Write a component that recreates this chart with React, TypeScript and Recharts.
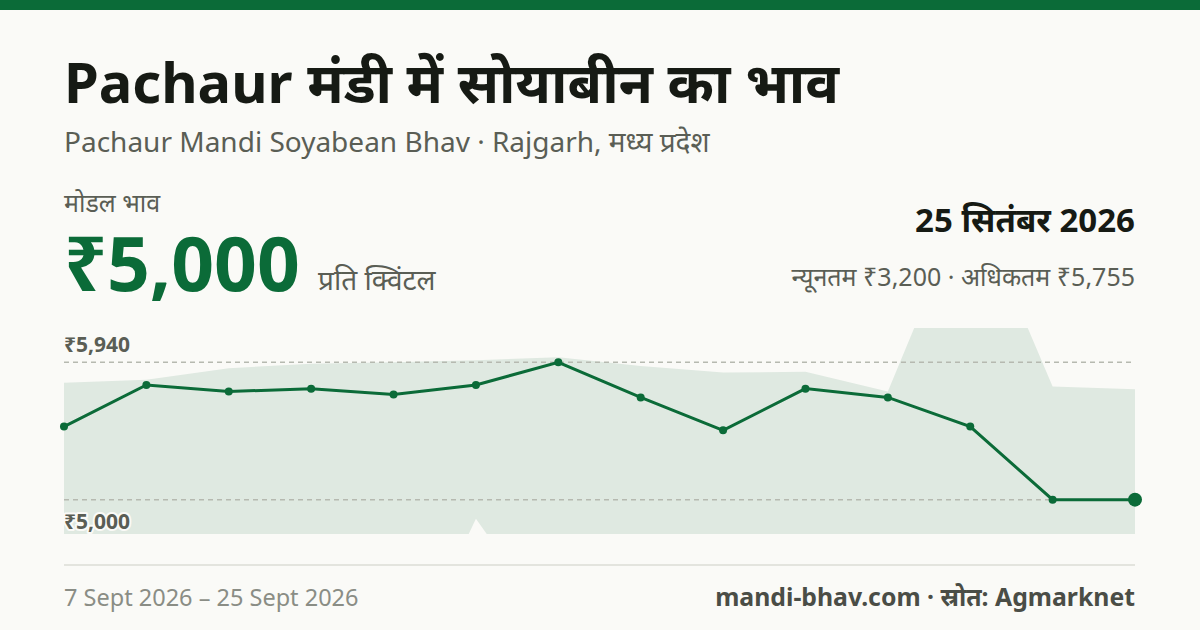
import { ComposedChart, Area, Line, XAxis, YAxis, ReferenceLine } from 'recharts'

const dates = ['7 Sept', '8 Sept', '9 Sept', '10 Sept', '11 Sept', '12 Sept', '14 Sept', '15 Sept', '16 Sept', '17 Sept', '19 Sept', '22 Sept', '24 Sept', '25 Sept']
const modalPrice = [5500, 5785, 5740, 5760, 5720, 5785, 5940, 5700, 5475, 5760, 5700, 5500, 5000, 5000]
const minPrice = [4000, 3800, 4200, 3500, 3670, 4870, 4070, 3600, 4000, 3800, 4100, 3500, 3900, 3200]
const maxPrice = [5800, 5820, 5900, 5930, 5940, 5955, 5975, 5915, 5870, 5875, 5740, 7100, 5775, 5755]

const GREEN = '#0b6b38'
const BG = '#fafaf7'
const FONT = "'Noto Sans', 'Noto Sans Devanagari', sans-serif"

const chartData = dates.map((d, i) => ({
  date: d,
  modal: modalPrice[i],
  range: [minPrice[i], maxPrice[i]]
}))

const hi = Math.max(...modalPrice)
const lo = Math.min(...modalPrice)
const pad = (hi - lo) * 0.25
const fmt = (v: number) => '₹' + v.toLocaleString('en-IN')

function refLabel(text: string, above: boolean) {
  return (props: any) => {
    const vb = props.viewBox || {}
    return (
      <text
        x={vb.x}
        y={above ? vb.y - 10 : vb.y + 29}
        fill="#5a5e55"
        fontSize={21}
        fontWeight={700}
        fontFamily={FONT}
        stroke={BG}
        strokeWidth={4}
        strokeLinejoin="round"
        paintOrder="stroke"
      >
        {text}
      </text>
    )
  }
}

export default function App() {
  const last = chartData.length - 1
  return (
    <div style={{ position: 'absolute', left: 0, top: 0, width: 1200, height: 630, background: BG, overflow: 'hidden', fontFamily: FONT }}>
      <div style={{ position: 'absolute', left: 0, top: 0, width: 1200, height: 10, background: GREEN }} />
      <svg width={1200} height={630} style={{ position: 'absolute', left: 0, top: 0 }} fontFamily={FONT}>
        <text x={64} y={103} fontSize={56} fontWeight={700} fill="#161a14">Pachaur मंडी में सोयाबीन का भाव</text>
        <text x={64} y={152} fontSize={28} fill="#5a5e55">Pachaur Mandi Soyabean Bhav · Rajgarh, मध्य प्रदेश</text>
        <text x={64} y={212} fontSize={25} fill="#5a5e55">मोडल भाव</text>
        <text x={64} y={291} fontSize={75} fontWeight={700} fill={GREEN}>₹5,000</text>
        <text x={318} y={290} fontSize={28} fill="#5a5e55">प्रति क्विंटल</text>
        <text x={1135} y={232} fontSize={33} fontWeight={700} fill="#161a14" textAnchor="end">25 सितंबर 2026</text>
        <text x={1135} y={286} fontSize={25} fill="#5a5e55" textAnchor="end">न्यूनतम ₹3,200 · अधिकतम ₹5,755</text>
        <line x1={64} x2={1135} y1={565} y2={565} stroke="#e3e4de" strokeWidth={2} />
        <text x={64} y={606} fontSize={23.5} fill="#8a8d85">7 Sept 2026 – 25 Sept 2026</text>
        <text x={1135} y={606} fontSize={24.8} fontWeight={700} fill="#4a4d46" textAnchor="end">mandi-bhav.com · स्रोत: Agmarknet</text>
      </svg>
      <div style={{ position: 'absolute', left: 44, top: 307 }}>
        <ComposedChart width={1112} height={247} data={chartData} margin={{ top: 21, right: 21, bottom: 20, left: 20 }}>
          <XAxis dataKey="date" type="category" scale="point" padding={{ left: 0, right: 0 }} hide />
          <YAxis type="number" domain={[lo - pad, hi + pad]} allowDataOverflow hide />
          <Area dataKey="range" type="linear" fill="#dfe9e1" fillOpacity={1} stroke="none" isAnimationActive={false} activeDot={false} />
          <ReferenceLine y={hi} stroke="#b6b9b0" strokeWidth={1.5} strokeDasharray="5 4" label={refLabel(fmt(hi), true)} />
          <ReferenceLine y={lo} stroke="#b6b9b0" strokeWidth={1.5} strokeDasharray="5 4" label={refLabel(fmt(lo), false)} />
          <Line
            dataKey="modal"
            type="linear"
            stroke={GREEN}
            strokeWidth={3}
            isAnimationActive={false}
            activeDot={false}
            dot={(p: any) => (
              <circle key={'d' + p.index} cx={p.cx} cy={p.cy} r={p.index === last ? 7 : 4} fill={GREEN} stroke="none" />
            )}
          />
        </ComposedChart>
      </div>
    </div>
  )
}
